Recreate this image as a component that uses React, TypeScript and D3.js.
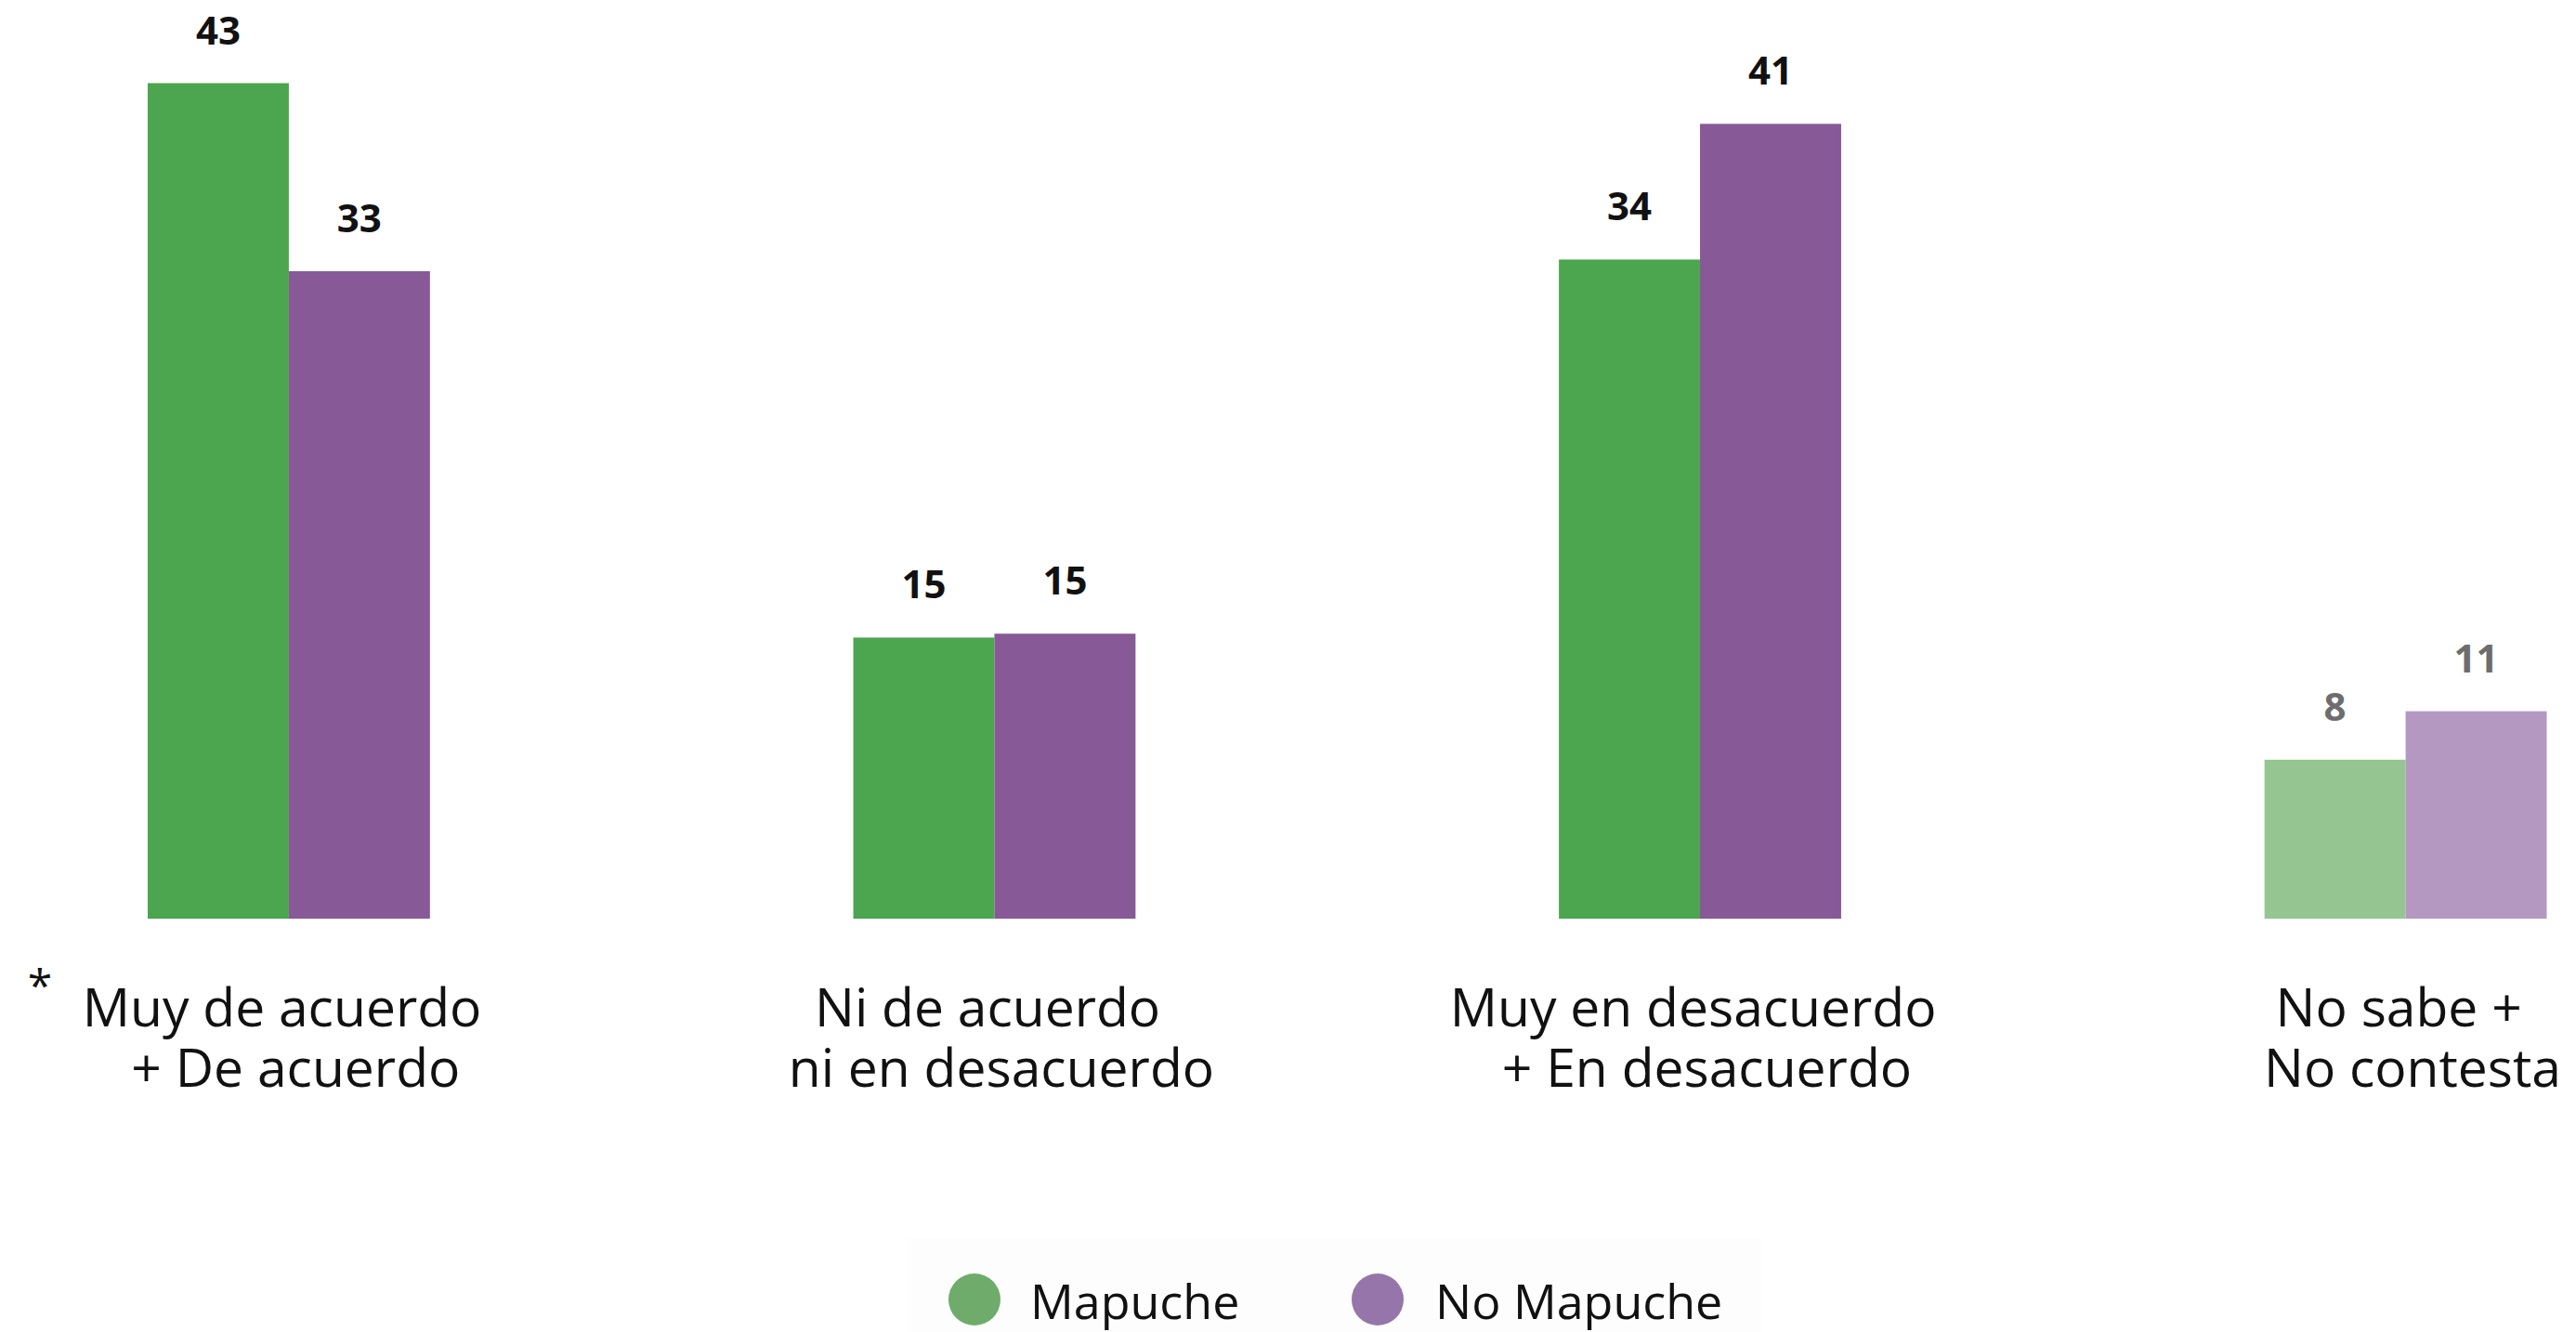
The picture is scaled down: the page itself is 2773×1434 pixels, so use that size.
import React from "react";
import * as d3 from "d3";

const categoriesLine1 = ["Muy de acuerdo ", "Ni de acuerdo ", "Muy en desacuerdo ", "No sabe + "];
const categoriesLine2 = [" + De acuerdo", " ni en desacuerdo", " + En desacuerdo", " No contesta"];
const categoryKeys = ["A", "B", "C", "D"];
const seriesNames = ["Mapuche", "No Mapuche"];
const mapucheValues = [43.1, 14.5, 34.0, 8.2];
const noMapucheValues = [33.4, 14.7, 41.0, 10.7];
const mutedCategory = "D";

const W = 2773;
const H = 1434;

const colors: Record<string, string> = { "Mapuche": "#4ca54f", "No Mapuche": "#875997" };
const mutedColors: Record<string, string> = { "Mapuche": "#95c692", "No Mapuche": "#b498c1" };
const legendColors: Record<string, string> = { "Mapuche": "#6fab6b", "No Mapuche": "#9675aa" };

export default function App() {
  React.useEffect(() => {
    document.body.style.margin = "0";
  }, []);

  const x = d3.scaleBand<string>().domain(categoryKeys).range([159, 2741.5]).paddingInner(0.6).paddingOuter(0);
  const xi = d3.scaleBand<string>().domain(seriesNames).range([0, x.bandwidth()]).padding(0);
  const baseY = 989;
  const y = d3.scaleLinear().domain([0, 45]).range([baseY, baseY - 45 * 20.87]);
  const fmt = d3.format(".0f");
  const seriesValues: Record<string, number[]> = { "Mapuche": mapucheValues, "No Mapuche": noMapucheValues };

  const legendItems = [
    { name: "Mapuche", cx: 1049, tx: 1109 },
    { name: "No Mapuche", cx: 1483, tx: 1545 },
  ];

  return (
    <svg width={W} height={H} style={{ position: "absolute", left: 0, top: 0, display: "block" }}
      fontFamily="'Open Sans', sans-serif">
      <rect x={0} y={0} width={W} height={H} fill="#ffffff" />
      {categoryKeys.map((c, ci) => (
        <g key={c} transform={`translate(${x(c)},0)`}>
          {seriesNames.map((s) => {
            const v = seriesValues[s][ci];
            const muted = c === mutedCategory;
            const bx = xi(s) as number;
            return (
              <g key={s}>
                <rect x={bx} y={y(v)} width={xi.bandwidth()} height={baseY - y(v)}
                  fill={muted ? mutedColors[s] : colors[s]} />
                <text x={bx + xi.bandwidth() / 2} y={y(v) - 42} textAnchor="middle"
                  fontSize={42} fontWeight={700} fill={muted ? "#6d6d6d" : "#111111"}>
                  {fmt(v)}
                </text>
              </g>
            );
          })}
          <text textAnchor="middle" fontSize={57} fill="#111111" style={{ whiteSpace: "pre" }}>
            <tspan x={x.bandwidth() / 2} y={1105}>{categoriesLine1[ci]}</tspan>
            <tspan x={x.bandwidth() / 2} y={1170}>{categoriesLine2[ci]}</tspan>
          </text>
        </g>
      ))}
      <text x={43} y={1078} textAnchor="middle" fontSize={48} fill="#111111">*</text>
      <rect x={977} y={1333} width={920} height={101} fill="#fdfdfd" />
      {legendItems.map((l) => (
        <g key={l.name}>
          <circle cx={l.cx} cy={1399} r={28} fill={legendColors[l.name]} />
          <text x={l.tx} y={1420} fontSize={52} fill="#111111">{l.name}</text>
        </g>
      ))}
    </svg>
  );
}
